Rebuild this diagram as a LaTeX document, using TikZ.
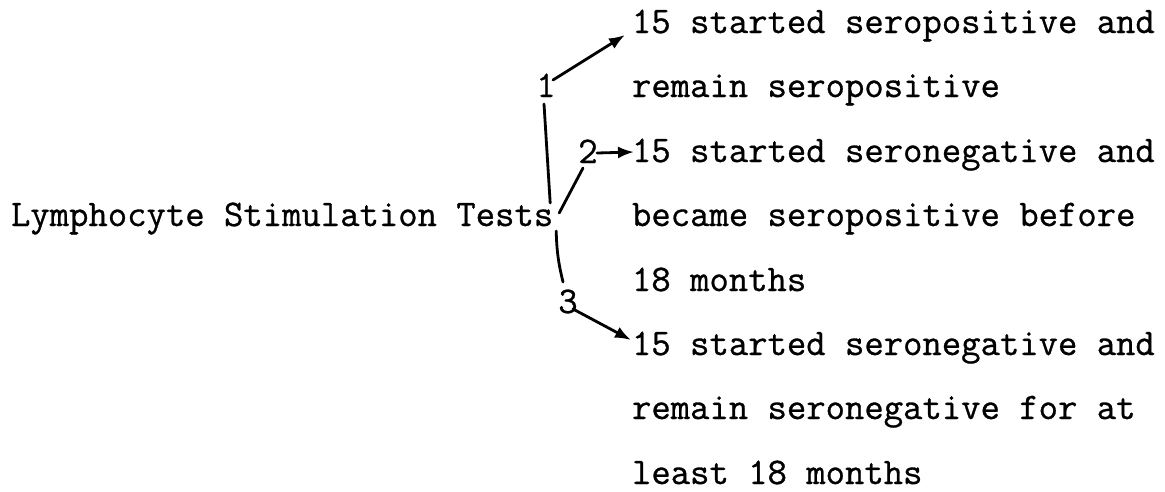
\documentclass[tikz,border=0pt]{standalone}
\usepackage{fontspec}
\newfontfamily\tw[FakeBold=0.8]{Latin Modern Mono}
\usetikzlibrary{arrows.meta,calc}
\begin{document}
\begin{tikzpicture}[x=1pt,y=-1pt,
  txt/.style={inner sep=0pt,outer sep=0pt,font=\tw\fontsize{37.6}{40}\selectfont},
  ln/.style={anchor=base west,txt},
  num/.style={anchor=base,txt},
  con/.style={line width=2.8pt,line cap=round},
  arr/.style={con,-{Latex[length=16pt,width=12pt]}}]
\useasboundingbox (0,0) rectangle (1165,491);
\fill[white] (0,0) rectangle (1165,491);
% left label
\node[ln] (lst) at (11,226) {Lymphocyte Stimulation Tests};
% right column
\node[ln] (r1) at (632,33)  {15 started seropositive and};
\node[ln] (r2) at (632,97)  {remain seropositive};
\node[ln] (r3) at (632,162) {15 started seronegative and};
\node[ln] (r4) at (632,226) {became seropositive before};
\node[ln] (r5) at (632,291) {18 months};
\node[ln] (r6) at (632,355) {15 started seronegative and};
\node[ln] (r7) at (632,419) {remain seronegative for at};
\node[ln] (r8) at (632,484) {least 18 months};
% numbers
\node[num] (n1) at (546,97)  {1};
\node[num] (n2) at (588,163) {2};
\node[num] (n3) at (568,313) {3};
% connectors
\draw[arr] ($(n1.base)+(7,-17)$) -- ($(r1.base west)+(-7,2)$);
\draw[con] ($(n1.base)+(-2,7)$) -- ($(lst.base east)+(-3,-23)$);
\draw[con] ($(lst.base east)+(6,-13)$) -- ($(n2.base)+(-5,5)$);
\draw[arr] ($(n2.base)+(9,-10)$) -- ($(r3.base west)+(2,-10)$);
\draw[con] ($(lst.base east)+(3,5)$) to[bend right=6] ($(n3.base)+(-5,-31)$);
\draw[arr] ($(n3.base)+(5,-4)$) -- ($(r6.base west)+(-1,-15)$);
\end{tikzpicture}
\end{document}
